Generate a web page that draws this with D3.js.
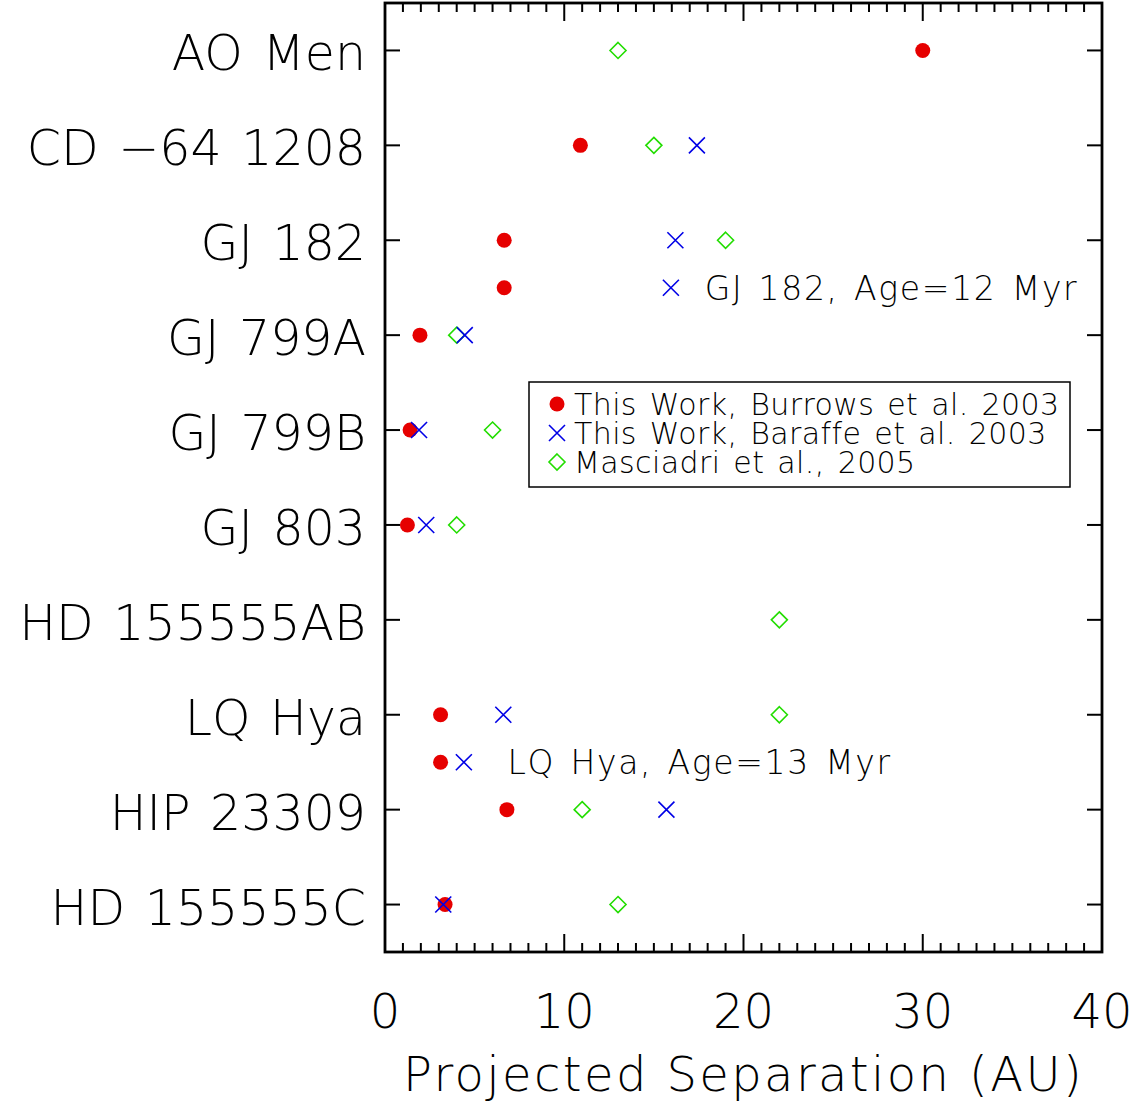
<!DOCTYPE html>
<html>
<head>
<meta charset="utf-8">
<script src="https://cdn.jsdelivr.net/npm/d3@7"></script>
<style>
  body { margin: 0; background: #fff; }
  svg text { font-family: "DejaVu Sans", sans-serif; font-weight: 200; fill: #000; }
</style>
</head>
<body>
<div id="chart"></div>
<script>
// stars, top to bottom
var stars = ['AO Men', 'CD \u221264 1208', 'GJ 182', 'GJ 799A', 'GJ 799B',
  'GJ 803', 'HD 155555AB', 'LQ Hya', 'HIP 23309', 'HD 155555C'];

// projected separation (AU), null = no value
var burrows   = [30.0, 10.9, 6.65, 1.95, 1.4, 1.25, null, 3.1, 6.8, 3.35];
var baraffe   = [null, 17.4, 16.2, 4.45, 1.9, 2.3, null, 6.6, 15.7, 3.25];
var masciadri = [13.0, 15.0, 19.0, 4.0, 6.0, 4.0, 22.0, 22.0, 11.0, 13.0];

// younger-age solutions, drawn between rows
var ageLabels  = ['GJ 182, Age=12 Myr', 'LQ Hya, Age=13 Myr'];
var agePos     = [2.5, 7.5];
var ageLabelX  = [18, 7];
var ageBurrows = [6.65, 3.1];
var ageBaraffe = [15.95, 4.4];

var xTicks = [0, 10, 20, 30, 40];

var legendLabels = ['This Work, Burrows et al. 2003',
  'This Work, Baraffe et al. 2003', 'Masciadri et al., 2005'];

var Chart = function() {
  var RED = '#e60000', BLUE = '#0000e6', GREEN = '#22dd00';

  var width = 1140, height = 1105;
  var pLeft = 385, pRight = 1102, pTop = 3, pBottom = 952;

  var svg = d3.select('#chart').append('svg')
    .attr('width', width)
    .attr('height', height);

  var x = d3.scaleLinear().domain([0, 40]).range([pLeft, pRight]);
  var y = d3.scaleLinear().domain([-0.5, 9.5]).range([pTop, pBottom]);

  // frame
  svg.append('rect')
    .attr('x', pLeft).attr('y', pTop)
    .attr('width', pRight - pLeft).attr('height', pBottom - pTop)
    .attr('fill', 'none').attr('stroke', '#000').attr('stroke-width', 2.8);

  // x ticks, bottom and top
  var minor = d3.range(0, 41, 1);
  minor.forEach(function(v) {
    var len = (v % 10 === 0) ? 18 : 9;
    svg.append('line').attr('x1', x(v)).attr('x2', x(v))
      .attr('y1', pBottom).attr('y2', pBottom - len)
      .attr('stroke', '#000').attr('stroke-width', 2);
    svg.append('line').attr('x1', x(v)).attr('x2', x(v))
      .attr('y1', pTop).attr('y2', pTop + len)
      .attr('stroke', '#000').attr('stroke-width', 2);
  });
  xTicks.forEach(function(v) {
    svg.append('text')
      .attr('x', x(v)).attr('y', 1028)
      .attr('text-anchor', 'middle')
      .attr('font-size', 48)
      .text(v);
  });
  svg.append('text')
    .attr('x', (pLeft + pRight) / 2).attr('y', 1091)
    .attr('text-anchor', 'middle')
    .attr('font-size', 48)
    .attr('letter-spacing', 2.4)
    .text('Projected Separation (AU)');

  // y ticks + star names
  stars.forEach(function(s, i) {
    svg.append('line').attr('x1', pLeft).attr('x2', pLeft + 15).attr('y1', y(i)).attr('y2', y(i))
      .attr('stroke', '#000').attr('stroke-width', 2);
    svg.append('line').attr('x1', pRight).attr('x2', pRight - 15).attr('y1', y(i)).attr('y2', y(i))
      .attr('stroke', '#000').attr('stroke-width', 2);
    svg.append('text')
      .attr('x', 366).attr('y', y(i) + 20)
      .attr('text-anchor', 'end')
      .attr('font-size', 49)
      .attr('letter-spacing', 0)
      .attr('word-spacing', 4)
      .text(s);
  });

  // marker drawing
  var circle = function(g, cx, cy) {
    g.append('circle').attr('cx', cx).attr('cy', cy).attr('r', 7.5).attr('fill', RED);
  };
  var cross = function(g, cx, cy) {
    var r = 8;
    g.append('path')
      .attr('d', 'M' + (cx - r) + ',' + (cy - r) + 'L' + (cx + r) + ',' + (cy + r) +
        'M' + (cx - r) + ',' + (cy + r) + 'L' + (cx + r) + ',' + (cy - r))
      .attr('stroke', BLUE).attr('stroke-width', 1.6).attr('fill', 'none');
  };
  var diamond = function(g, cx, cy) {
    var r = 8;
    g.append('path')
      .attr('d', 'M' + cx + ',' + (cy - r) + 'L' + (cx + r) + ',' + cy + 'L' + cx + ',' + (cy + r) +
        'L' + (cx - r) + ',' + cy + 'Z')
      .attr('stroke', GREEN).attr('stroke-width', 1.6).attr('fill', 'none');
  };

  var pts = svg.append('g');
  masciadri.forEach(function(v, i) { if (v !== null) diamond(pts, x(v), y(i)); });
  burrows.forEach(function(v, i) { if (v !== null) circle(pts, x(v), y(i)); });
  baraffe.forEach(function(v, i) { if (v !== null) cross(pts, x(v), y(i)); });

  ageLabels.forEach(function(lbl, k) {
    circle(pts, x(ageBurrows[k]), y(agePos[k]));
    cross(pts, x(ageBaraffe[k]), y(agePos[k]));
    svg.append('text')
      .attr('x', x(ageLabelX[k]) - 3).attr('y', y(agePos[k]) + 12)
      .attr('font-size', 33)
      .attr('letter-spacing', 1.7)
      .attr('word-spacing', 3)
      .text(lbl);
  });

  // legend
  var lg = svg.append('g');
  lg.append('rect')
    .attr('x', 529).attr('y', 382).attr('width', 541).attr('height', 105)
    .attr('fill', '#fff').attr('stroke', '#000').attr('stroke-width', 1.5);
  var markers = [circle, cross, diamond];
  legendLabels.forEach(function(lbl, k) {
    var cy = 404 + k * 29;
    markers[k](lg, 557, cy);
    lg.append('text')
      .attr('x', 574).attr('y', cy + 11)
      .attr('font-size', 30)
      .attr('letter-spacing', 0.4)
      .attr('word-spacing', 3)
      .text(lbl);
  });
};

Chart();
</script>
</body>
</html>
